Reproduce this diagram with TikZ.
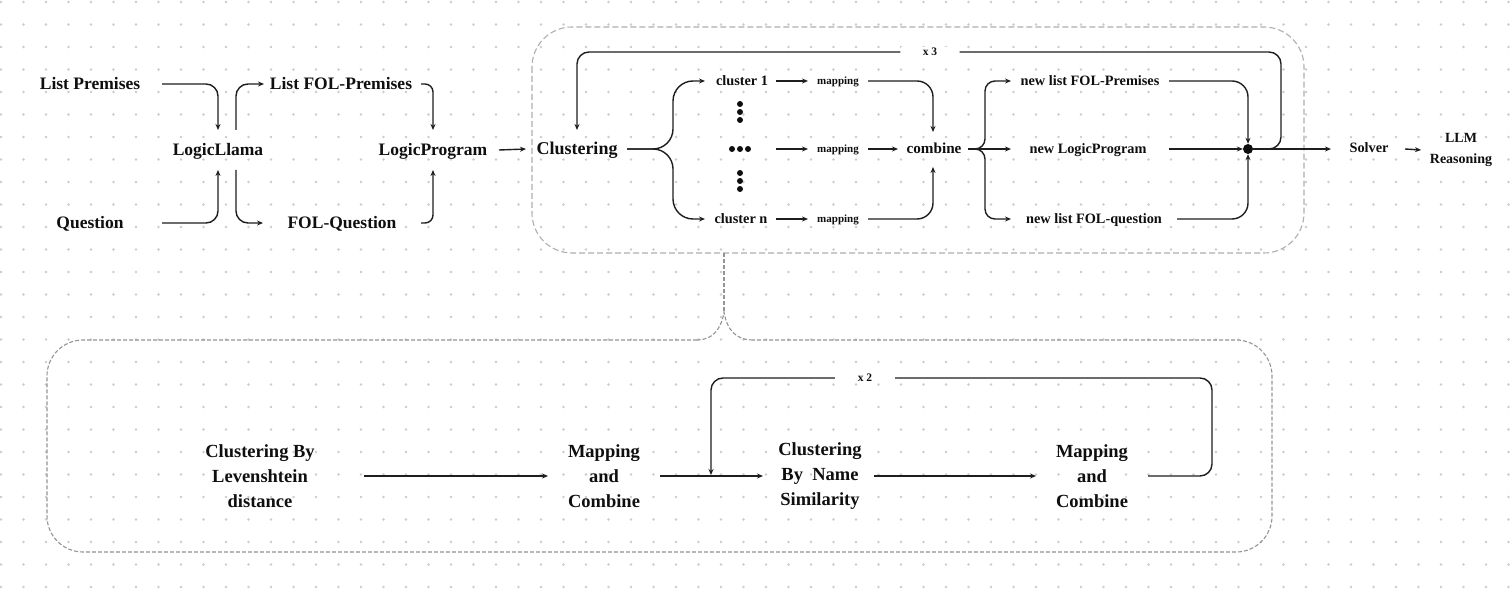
\documentclass[tikz,border=0pt]{standalone}
\usepackage{fontspec}
\setmainfont{Liberation Serif}
\usetikzlibrary{arrows.meta,calc}
\definecolor{dotc}{RGB}{200,204,214}
\definecolor{boxc}{RGB}{175,175,175}
\definecolor{inkc}{RGB}{15,15,15}
\definecolor{linec}{RGB}{30,30,30}
\begin{document}
\begin{tikzpicture}[x=1pt,y=-1pt,
  lbl/.style={text=inkc, inner sep=0pt, text depth=0pt},
  big/.style={lbl, text height=11.5pt, font=\bfseries\fontsize{17.5}{21}\selectfont},
  mid/.style={lbl, text height=9.4pt, font=\bfseries\fontsize{14.3}{18}\selectfont},
  sml/.style={lbl, text height=7.2pt, font=\bfseries\fontsize{11}{13}\selectfont},
  tiny/.style={font=\bfseries\fontsize{11.5}{13}\selectfont, text=inkc, inner sep=0pt, fill=white},
  low/.style={font=\bfseries\fontsize{18.5}{25}\selectfont, text=inkc, inner sep=0pt, align=center},
  line/.style={draw=linec, line width=1.4pt},
  arr/.style={line, -{Stealth[length=6pt,width=5pt]}},
  dashbox/.style={draw=boxc, line width=1.1pt, dash pattern=on 6pt off 3pt},
  dashbox2/.style={draw=boxc!85!black, line width=1.1pt, dash pattern=on 4pt off 2pt}
]
\useasboundingbox (0,0) rectangle (1512,593);
\fill[white] (0,0) rectangle (1512,593);
\foreach \i in {0,...,67}{\foreach \j in {0,...,26}{
  \fill[dotc] ({22.5*\i+1},{22.5*\j+2}) circle[radius=1.3pt];}}

% frames
\draw[dashbox, rounded corners=40] (532,27) rectangle (1304,253);
\draw[dashbox2, rounded corners=36] (697,340) -- (47,340) -- (47,552) -- (1272,552) -- (1272,340) -- (753,340);
\draw[dashbox2] (753,340) .. controls (736,340) and (727,330) .. (724,312)
                 .. controls (721,330) and (712,340) .. (697,340);
\draw[dashbox2] (724,253) -- (724,312);

% top row nodes
\node[big] (lp) at (90,84) {List Premises};
\node[big] (q) at (90,223) {Question};
\node[big] (ll) at (218,150) {LogicLlama};
\node[big] (lfp) at (341,84) {List FOL-Premises};
\node[big] (fq) at (342,223) {FOL-Question};
\node[big] (prog) at (433,150) {LogicProgram};
\node[lbl, text height=11.9pt, font=\bfseries\fontsize{18}{21}\selectfont] (cl) at (577,149) {Clustering};

\node[mid] (c1) at (742,81) {cluster 1};
\node[mid] (cn) at (741,219) {cluster n};
\coordinate (hd) at (740,149);
\foreach \yy in {104,112,120,173,181,189}{\fill[inkc] (740,\yy) circle[radius=3pt];}
\foreach \xx in {732,740,748}{\fill[inkc] (\xx,149) circle[radius=3pt];}
\node[sml] (m1) at (838,81) {mapping};
\node[sml] (m2) at (838,149) {mapping};
\node[sml] (m3) at (838,219) {mapping};
\node[lbl, text height=10pt, font=\bfseries\fontsize{15.2}{18}\selectfont] (cb) at (934,149) {combine};

\node[mid] (nfp) at (1090,81) {new list FOL-Premises};
\node[mid] (nlp) at (1088,149) {new LogicProgram};
\node[mid] (nfq) at (1094,219) {new list FOL-question};
\node[circle, fill=inkc, inner sep=0pt, minimum size=10pt] (jn) at (1248,149) {};
\node[mid] (sv) at (1369,148) {Solver};
\node[font=\bfseries\fontsize{14}{21}\selectfont, text=inkc, inner sep=0pt, align=center] (llm) at (1461,150) {LLM\\Reasoning};
\node[tiny, minimum width=59pt, minimum height=10pt] (x3) at (930,52) {x 3};

% top row connectors
\draw[arr, rounded corners=12] ($(lp)+(72,0)$) -| ($(ll)+(0,-20)$);
\draw[arr, rounded corners=12] ($(q)+(72,0)$) -| ($(ll)+(0,20)$);
\draw[arr, rounded corners=12] ($(ll)+(18,-20)$) |- ($(lfp)+(-77,0)$);
\draw[arr, rounded corners=12] ($(ll)+(18,20)$) |- ($(fq)+(-79,0)$);
\draw[arr, rounded corners=8] ($(lfp)+(80,0)$) -| ($(prog)+(0,-20)$);
\draw[arr, rounded corners=8] ($(fq)+(79,0)$) -| ($(prog)+(0,20)$);
\draw[arr] ($(prog)+(66,0)$) -- ($(cl)+(-51,0)$);

% clustering brace
\draw[arr, rounded corners=20] ($(cl)+(50,0)$) -- (673,149) |- ($(c1)+(-37,0)$);
\draw[arr, rounded corners=20] ($(cl)+(50,0)$) -- (673,149) |- ($(cn)+(-36,0)$);

\draw[arr] ($(c1)+(34,0)$) -- ($(m1)+(-30,0)$);
\draw[arr] ($(hd)+(36,0)$) -- ($(m2)+(-30,0)$);
\draw[arr] ($(cn)+(35,0)$) -- ($(m3)+(-30,0)$);

\draw[arr, rounded corners=16] ($(m1)+(30,0)$) -| ($(cb)+(-1,-17)$);
\draw[arr] ($(m2)+(30,0)$) -- ($(cb)+(-36,0)$);
\draw[arr, rounded corners=16] ($(m3)+(30,0)$) -| ($(cb)+(-1,18)$);

% combine brace
\draw[arr, rounded corners=10] ($(cb)+(34,0)$) -- (985,149) |- ($(nfp)+(-79,0)$);
\draw[arr, rounded corners=10] ($(cb)+(34,0)$) -- (985,149) |- ($(nfq)+(-83,0)$);
\draw[arr] ($(cb)+(34,0)$) -- ($(nlp)+(-77,0)$);

\draw[arr, rounded corners=16] ($(nfp)+(79,0)$) -| (jn.north);
\draw[arr] ($(nlp)+(81,0)$) -- (jn.west);
\draw[arr, rounded corners=16] ($(nfq)+(83,0)$) -| (jn.south);

\draw[arr] (jn.east) -- ($(sv)+(-38,1)$);
\draw[arr] ($(sv)+(36,1)$) -- ($(llm)+(-40,0)$);

% x3 loop
\coordinate (r3) at (1281,52);
\draw[line, rounded corners=12] (jn.east) -| (r3) -- (x3.east);
\draw[arr, rounded corners=12] (x3.west) -| ($(cl)+(0,-19)$);

% lower row
\node[low] (cbl) at (260,476) {Clustering By\\Levenshtein\\distance};
\node[low] (mc1) at (604,476) {Mapping\\and\\Combine};
\node[low] (cns) at (820,476) {Clustering\\By~ Name\\Similarity};
\node[low] (mc2) at (1092,476) {Mapping\\and\\Combine};
\node[tiny, minimum width=60pt, minimum height=10pt] (x2) at (865,378) {x 2};

\draw[arr] ($(cbl)+(104,0)$) -- ($(mc1)+(-56,0)$);
\draw[arr] ($(mc1)+(56,0)$) -- ($(cns)+(-57,0)$);
\draw[arr] ($(cns)+(54,0)$) -- ($(mc2)+(-56,0)$);
\coordinate (r2) at (1212,378);
\draw[line, rounded corners=12] ($(mc2)+(56,0)$) -| (r2) -- (x2.east);
\draw[arr, rounded corners=12] (x2.west) -| ($(cns)+(-109,-1)$);
\end{tikzpicture}
\end{document}
